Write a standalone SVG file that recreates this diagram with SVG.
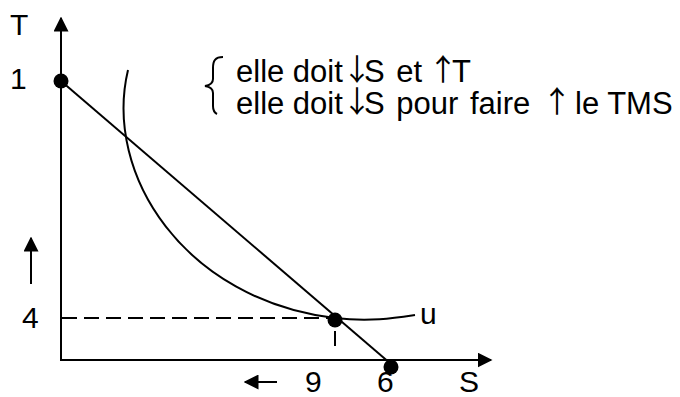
<svg xmlns="http://www.w3.org/2000/svg" width="680" height="397" viewBox="0 0 680 397">
<style>
.t{font-family:"Liberation Sans",Arial,sans-serif;font-size:30px;fill:#000}
.n{font-family:"Liberation Sans",Arial,sans-serif;font-size:31px;fill:#000}
.w{word-spacing:3px}
.ar{font-family:"Noto Sans CJK SC","DejaVu Sans",sans-serif;font-size:30px;fill:#000;text-anchor:middle}
.ln{stroke:#000;stroke-width:2;fill:none}
.ds{stroke:#000;stroke-width:2;fill:none;stroke-dasharray:15,7}
</style>
<defs>
<marker id="ahb" viewBox="0 0 10 10" refX="9" refY="5" markerWidth="15" markerHeight="15" markerUnits="userSpaceOnUse" orient="auto">
<path d="M0,0 L10,5 L0,10 Z" fill="#000"/>
</marker>
</defs>
<rect width="680" height="397" fill="#fff"/>
<g id="connectors">
<path id="axis-y" class="ln" d="M61,360 L61,18" marker-end="url(#ahb)"/>
<path id="axis-x" class="ln" d="M60,360 L491,360" marker-end="url(#ahb)"/>
<path id="budget" class="ln" d="M61,81 L391,364"/>
<path id="curve-u" class="ln" d="M128,70 C103,175 185,300 335,318 C370,322 395,318 415,315"/>
<path id="dash-h" class="ds" d="M62,318 L335,318"/>
<path id="dash-v" class="ln" d="M335,331 L335,346" stroke-width="1.5"/>
<path id="arrow-up" class="ln" d="M31,284 L31,238" marker-end="url(#ahb)"/>
<path id="arrow-left" class="ln" d="M277,382 L245,382" marker-end="url(#ahb)"/>
</g>
<g id="point-1"><circle cx="61" cy="81" r="7.5"/></g>
<g id="point-eq"><circle cx="335" cy="320" r="7.5"/></g>
<g id="point-6"><circle cx="391" cy="367" r="7.5"/></g>
<g id="labels">
<text class="t" x="10" y="35">T</text>
<text class="t" x="10" y="89">1</text>
<text class="t" x="22" y="328">4</text>
<text class="t" x="420" y="324">u</text>
<text class="t" x="305" y="392">9</text>
<text class="t" x="377" y="392">6</text>
<text class="t" x="459" y="392">S</text>
</g>
<g id="note">
<path class="ln" stroke-width="1.5" d="M223,57 C215,57 213,61 213,68 L213,79 C213,83 211,85 205,86 C211,87 213,89 213,93 L213,106 C213,111 215,113 217,114"/>
<text class="n" x="236" y="82">elle doit</text>
<text class="ar" x="357" y="80">↓</text>
<text class="n w" x="364" y="82">S et</text>
<text class="ar" x="443" y="80">↑</text>
<text class="n" x="452" y="82">T</text>
<text class="n" x="236" y="114">elle doit</text>
<text class="ar" x="357" y="112">↓</text>
<text class="n w" x="364" y="114">S pour faire</text>
<text class="ar" x="557" y="112">↑</text>
<text class="n" x="575" y="114">le TMS</text>
</g>
</svg>
